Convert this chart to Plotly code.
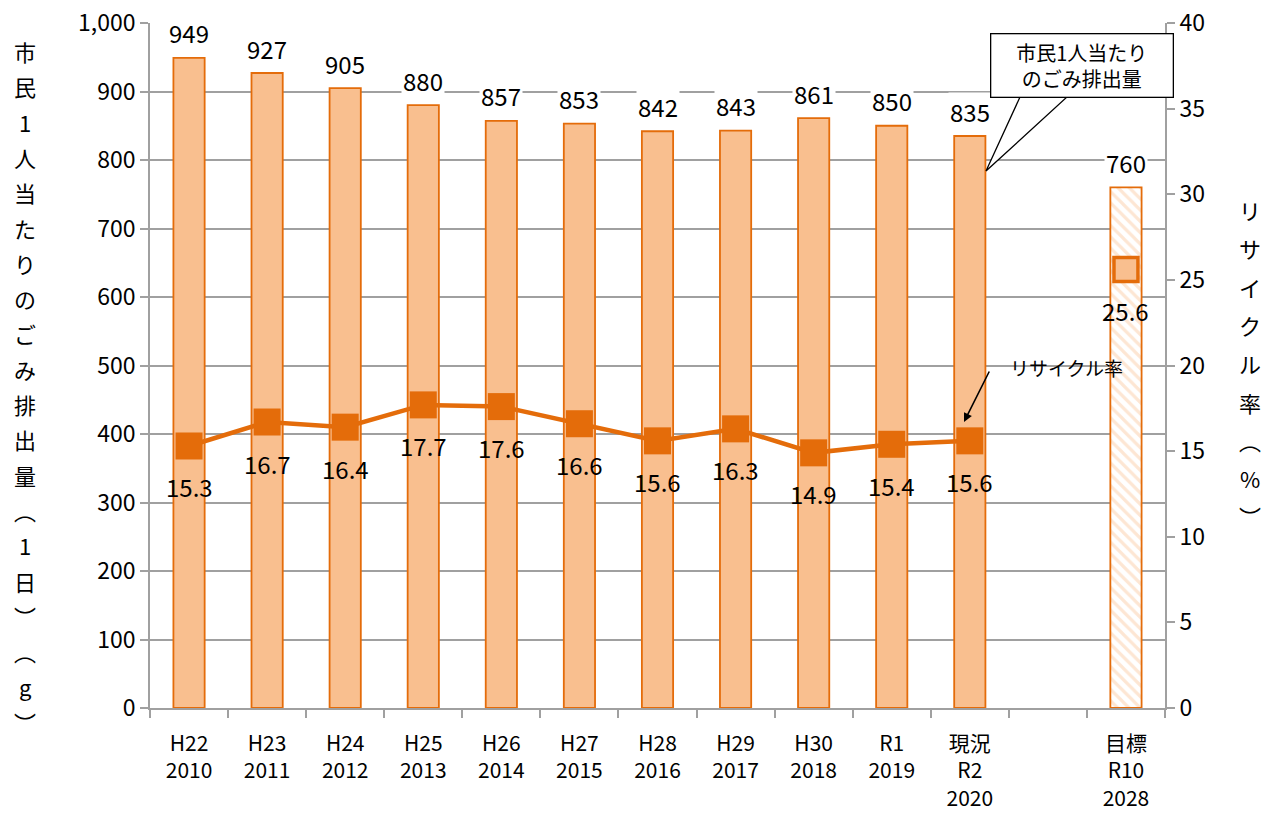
import plotly.graph_objects as go

categories = ["H22<br>2010", "H23<br>2011", "H24<br>2012", "H25<br>2013", "H26<br>2014",
              "H27<br>2015", "H28<br>2016", "H29<br>2017", "H30<br>2018", "R1<br>2019",
              "現況<br>R2<br>2020"]
gap_category = " "
target_category = "目標<br>R10<br>2028"
waste_per_person = [949, 927, 905, 880, 857, 853, 842, 843, 861, 850, 835]
recycle_rate = [15.3, 16.7, 16.4, 17.7, 17.6, 16.6, 15.6, 16.3, 14.9, 15.4, 15.6]
target_waste = [760]
target_recycle = [25.6]
left_title = "市民1人当たりのごみ排出量（1日）（g）"
right_title = "リサイクル率（%）"

all_cats = categories + [gap_category, target_category]

FONT = "Noto Sans CJK JP, Noto Sans, sans-serif"
BAR_FILL = "#F9BF8F"
ORANGE = "#E46C0A"
GRID = "#A0A0A0"

fig = go.Figure()
fig.add_trace(go.Bar(x=categories, y=waste_per_person, width=0.4,
                     marker=dict(color=BAR_FILL, line=dict(color=ORANGE, width=1.8)),
                     showlegend=False, hoverinfo="skip"))
fig.add_trace(go.Bar(x=[target_category], y=target_waste, width=0.4,
                     marker=dict(color="white", line=dict(color=ORANGE, width=1.8),
                                 pattern=dict(shape="\\", fgcolor="#FBCDA8", bgcolor="white",
                                              size=8, solidity=0.4)),
                     showlegend=False, hoverinfo="skip"))
fig.add_trace(go.Scatter(x=categories, y=recycle_rate, yaxis="y2", mode="lines+markers",
                         line=dict(color=ORANGE, width=4.5),
                         marker=dict(symbol="square", size=27, color=ORANGE),
                         showlegend=False, hoverinfo="skip"))
fig.add_trace(go.Scatter(x=[target_category], y=target_recycle, yaxis="y2", mode="markers",
                         marker=dict(symbol="square", size=24, color=BAR_FILL,
                                     line=dict(color=ORANGE, width=3.5)),
                         showlegend=False, hoverinfo="skip"))

# bar value labels with white background (breaking gridlines)
for c, v in zip(categories + [target_category], waste_per_person + target_waste):
    fig.add_annotation(x=c, y=v, xref="x", yref="y", text=str(v), showarrow=False,
                       yshift=25, bgcolor="white", borderpad=1,
                       font=dict(family=FONT, size=24, color="black"))
# recycle rate labels below markers
for c, v in zip(categories + [target_category], recycle_rate + target_recycle):
    fig.add_annotation(x=c, y=v, xref="x", yref="y2", text=f"{v:.1f}", showarrow=False,
                       yshift=-41, font=dict(family=FONT, size=24, color="black"))

W0, W1, H0, H1 = 150, 1165, 23, 708
def px(x): return (x - W0) / (W1 - W0)
def py(y): return (H1 - y) / (H1 - H0)

# callout wedge
fig.add_shape(type="path", xref="paper", yref="paper",
              path=f"M {px(1020)},{py(97)} L {px(986)},{py(171)} L {px(1067)},{py(97)} Z",
              fillcolor="white", line=dict(color="black", width=1.3), layer="above")
fig.add_annotation(xref="paper", yref="paper", x=px(1081.5), y=py(66),
                   xanchor="center", yanchor="middle",
                   text="市民1人当たり<br>のごみ排出量", showarrow=False,
                   width=179, height=60, bgcolor="white", bordercolor="black", borderwidth=1.3,
                   font=dict(family=FONT, size=20, color="black"), align="center")
# recycle rate callout
fig.add_annotation(xref="paper", yref="paper", x=px(1066), y=py(368),
                   xanchor="center", yanchor="middle",
                   text="リサイクル率", showarrow=False,
                   font=dict(family=FONT, size=19, color="black"))
fig.add_annotation(xref="paper", yref="paper", x=px(964), y=py(422), text="",
                   showarrow=True, arrowhead=2, arrowsize=1.1, arrowwidth=1.6,
                   arrowcolor="black", ax=26, ay=-52)

# axis titles (vertical stacked characters)
rot = {"（": "︵", "）": "︶"}
for i, ch in enumerate(left_title):
    fig.add_annotation(xref="paper", yref="paper", x=px(25), y=py(51 + i * 35.3),
                       xanchor="center", yanchor="middle",
                       text=rot.get(ch, ch), showarrow=False,
                       font=dict(family=FONT, size=22, color="black"))
for i, ch in enumerate(right_title):
    fig.add_annotation(xref="paper", yref="paper", x=px(1250), y=py(210 + i * 38.3),
                       xanchor="center", yanchor="middle",
                       text=rot.get(ch, ch), showarrow=False,
                       font=dict(family=FONT, size=22, color="black"))

fig.update_layout(
    width=1277, height=814,
    margin=dict(l=W0, r=1277 - W1, t=H0, b=814 - H1, autoexpand=False),
    plot_bgcolor="white", paper_bgcolor="white",
    font=dict(family=FONT, size=22, color="black"),
    barmode="overlay",
    xaxis=dict(type="category", categoryorder="array", categoryarray=all_cats,
               range=[-0.5, len(all_cats) - 0.5], automargin=False,
               tickson="boundaries", ticks="outside", ticklen=8, tickcolor=GRID, tickwidth=1.5,
               showline=True, linecolor=GRID, linewidth=1.8, showgrid=False,
               ticklabelstandoff=16, tickfont=dict(family=FONT, size=21)),
    yaxis=dict(range=[0, 1000], dtick=100, tickformat=",", ticks="outside", ticklen=8,
               tickcolor=GRID, tickwidth=1.5, showline=True, linecolor=GRID, linewidth=1.8,
               showgrid=True, gridcolor=GRID, gridwidth=1.5, zeroline=False, automargin=False,
               tickfont=dict(family=FONT, size=23)),
    yaxis2=dict(range=[0, 40], dtick=5, overlaying="y", side="right", ticks="outside",
                ticklen=8, tickcolor=GRID, tickwidth=1.5, showline=True, linecolor=GRID,
                linewidth=1.8, showgrid=False, zeroline=False, automargin=False,
                tickfont=dict(family=FONT, size=23)),
)

fig.write_html("out.html", config={"displayModeBar": False},
               post_script="document.body.style.margin='0';")
